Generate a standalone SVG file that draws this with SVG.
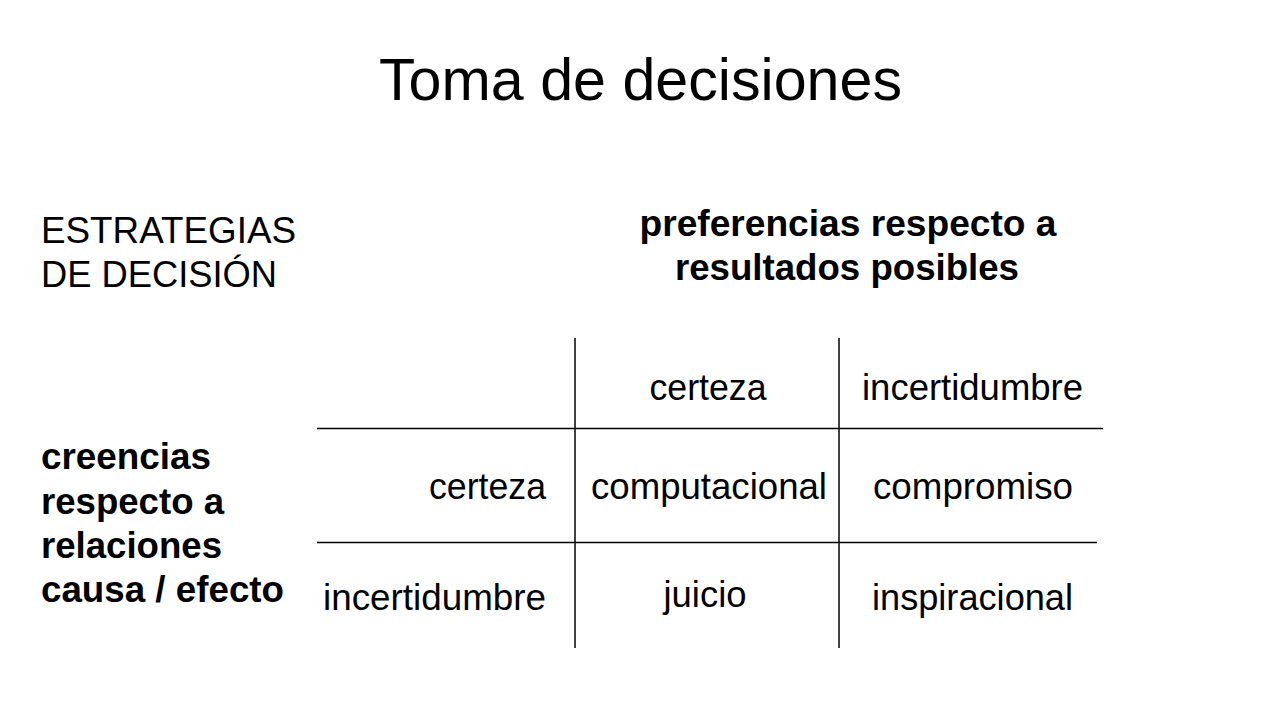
<svg xmlns="http://www.w3.org/2000/svg" width="1285" height="720" viewBox="0 0 1285 720">
<style>
text{font-family:"Liberation Sans",Arial,sans-serif;fill:#000}
.t{font-size:60px}
.r{font-size:36px}
.b{font-size:36px;font-weight:bold}
.m{text-anchor:middle}
.e{text-anchor:end}
.ln{stroke:#000;stroke-width:1.5;fill:none}
</style>
<rect width="1285" height="720" fill="#fff"/>
<g id="title"><text class="t" x="379" y="100" textLength="523" lengthAdjust="spacingAndGlyphs">Toma de decisiones</text></g>
<g id="estrategias"><text class="r" x="41" y="243" textLength="255" lengthAdjust="spacingAndGlyphs">ESTRATEGIAS</text><text class="r" x="41" y="287" textLength="236" lengthAdjust="spacingAndGlyphs">DE DECISIÓN</text></g>
<g id="preferencias"><text class="b m" x="848" y="236" textLength="417" lengthAdjust="spacingAndGlyphs">preferencias respecto a</text><text class="b m" x="847" y="280" textLength="344" lengthAdjust="spacingAndGlyphs">resultados posibles</text></g>
<g id="creencias"><text class="b" x="41" y="469" textLength="170" lengthAdjust="spacingAndGlyphs">creencias</text><text class="b" x="41" y="514" textLength="183" lengthAdjust="spacingAndGlyphs">respecto a</text><text class="b" x="41" y="558" textLength="181" lengthAdjust="spacingAndGlyphs">relaciones</text><text class="b" x="41" y="602" textLength="243" lengthAdjust="spacingAndGlyphs">causa / efecto</text></g>
<g id="connectors">
<line class="ln" x1="575" y1="338" x2="575" y2="648"/>
<line class="ln" x1="839" y1="338" x2="839" y2="648"/>
<line class="ln" x1="317" y1="428.5" x2="1103" y2="428.5"/>
<line class="ln" x1="317" y1="542.5" x2="1097" y2="542.5"/>
</g>
<g id="col-certeza"><text class="r m" x="708" y="400" textLength="117" lengthAdjust="spacingAndGlyphs">certeza</text></g>
<g id="col-incertidumbre"><text class="r m" x="972.5" y="400" textLength="221" lengthAdjust="spacingAndGlyphs">incertidumbre</text></g>
<g id="row-certeza"><text class="r e" x="546" y="499" textLength="117" lengthAdjust="spacingAndGlyphs">certeza</text></g>
<g id="row-incertidumbre"><text class="r e" x="546" y="610" textLength="223" lengthAdjust="spacingAndGlyphs">incertidumbre</text></g>
<g id="computacional"><text class="r m" x="709" y="499" textLength="236" lengthAdjust="spacingAndGlyphs">computacional</text></g>
<g id="compromiso"><text class="r m" x="973" y="499" textLength="200" lengthAdjust="spacingAndGlyphs">compromiso</text></g>
<g id="juicio"><text class="r m" x="705" y="607" textLength="83" lengthAdjust="spacingAndGlyphs">juicio</text></g>
<g id="inspiracional"><text class="r m" x="972.5" y="610" textLength="201" lengthAdjust="spacingAndGlyphs">inspiracional</text></g>
</svg>
